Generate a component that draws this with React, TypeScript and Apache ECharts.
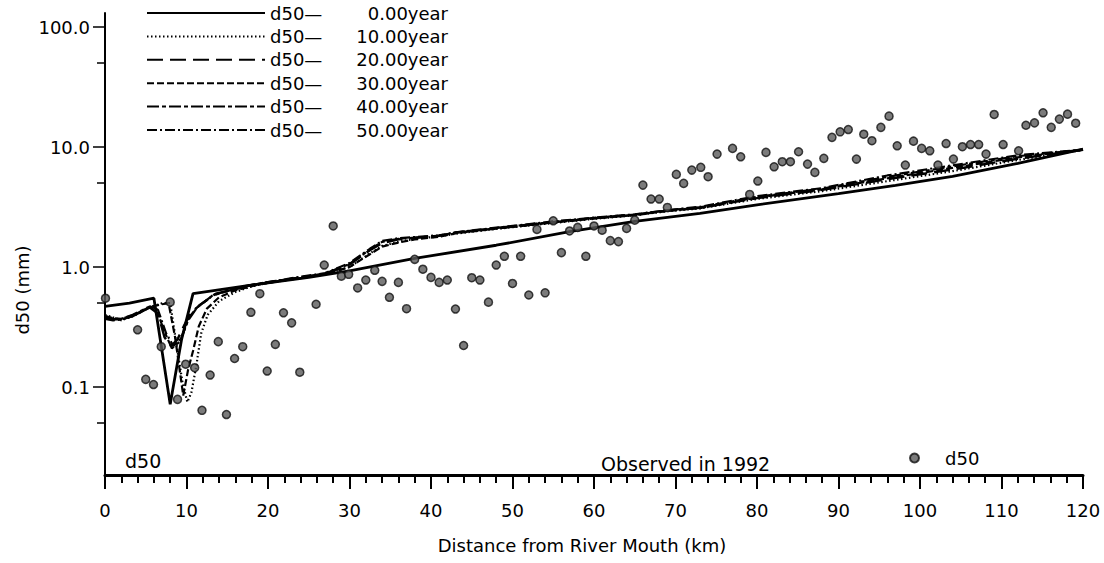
import React, { useEffect, useRef } from "react";
import * as echarts from "echarts";

const FONT = "'DejaVu Sans', sans-serif";

// Axis settings (values)
const xMin = 0;
const xMax = 120;
const xStep = 10;
const yMin = 0.0185;
const yMax = 131;
const yLabelValues = [0.1, 1, 10, 100];
const yMinorTickValues = [0.05, 0.5, 5, 50];

// Observed d50 in 1992
const obsKm = [
  0.06, 4.0, 5.0, 5.95, 6.9, 8.0, 8.9, 9.9, 11.0, 11.9, 12.9, 13.9, 14.9, 15.9, 16.9, 17.9, 19.0, 19.9,
  20.9, 21.9, 22.9, 23.9, 25.9, 26.9, 28.0, 29.0, 29.9, 31.0, 32.0, 33.1, 34.0, 34.9, 36.0, 37.0, 38.0,
  39.0, 40.0, 41.0, 42.0, 43.0, 44.0, 45.0, 46.0, 47.05, 48.0, 49.0, 50.0, 51.0, 52.0, 53.0, 54.0, 55.0,
  56.0, 57.0, 58.0, 59.0, 60.0, 61.0, 62.0, 63.0, 64.0, 65.0, 66.0, 67.0, 68.0, 69.0, 70.1, 71.0, 72.0,
  73.1, 74.0, 75.1, 77.0, 78.0, 79.1, 80.1, 81.1, 82.1, 83.1, 84.1, 85.1, 86.2, 87.1, 88.2, 89.2, 90.2,
  91.2, 92.2, 93.1, 94.1, 95.2, 96.2, 97.2, 98.2, 99.2, 100.2, 101.2, 102.2, 103.2, 104.1, 105.2, 106.2,
  107.2, 108.1, 109.1, 110.2, 112.1, 113.0, 114.05, 115.1, 116.1, 117.1, 118.1, 119.1,
];
const obsD50 = [
  0.55, 0.3, 0.116, 0.105, 0.217, 0.51, 0.079, 0.155, 0.145, 0.064, 0.126, 0.239, 0.059, 0.173, 0.217, 0.42, 0.6, 0.136,
  0.227, 0.416, 0.343, 0.133, 0.49, 1.04, 2.2, 0.84, 0.87, 0.67, 0.78, 0.94, 0.76, 0.56, 0.745, 0.45, 1.16,
  0.96, 0.82, 0.745, 0.78, 0.447, 0.222, 0.815, 0.78, 0.51, 1.04, 1.23, 0.73, 1.23, 0.585, 2.06, 0.61, 2.43,
  1.32, 2.0, 2.14, 1.23, 2.2, 2.03, 1.66, 1.63, 2.1, 2.46, 4.82, 3.69, 3.69, 3.14, 5.92, 4.98, 6.43,
  6.78, 5.66, 8.74, 9.75, 8.3, 4.03, 5.21, 9.03, 6.85, 7.55, 7.55, 9.14, 7.21, 6.15, 8.05, 12.05, 13.4,
  14.0, 7.94, 12.8, 11.3, 14.6, 18.1, 10.25, 7.08, 11.2, 9.75, 9.31, 7.08, 10.7, 7.94, 10.07, 10.5,
  10.5, 8.74, 18.7, 10.5, 9.31, 15.2, 15.9, 19.3, 14.6, 17.1, 18.8, 15.8,
];

// Computed d50 profiles [km, mm]
const year0 = [
  [0, 0.47], [3, 0.5], [6, 0.55], [8, 0.072], [9.4, 0.25], [10.8, 0.6], [15, 0.66], [20, 0.74], [25, 0.82], [30, 0.93],
  [38, 1.18], [48, 1.52], [57, 1.97], [65, 2.4], [73, 2.8], [80, 3.3], [90, 4.1], [97, 4.8], [104, 5.7],
  [112, 7.3], [120, 9.6],
];
const year10 = [
  [0, 0.4], [1, 0.38], [2, 0.36], [3.4, 0.39], [5.5, 0.46], [7, 0.5], [8, 0.5], [8.8, 0.22], [9.5, 0.11],
  [10.1, 0.075], [10.6, 0.09], [11.2, 0.15], [11.8, 0.28], [12.6, 0.4], [14, 0.52], [16, 0.62], [18, 0.69],
  [20, 0.74], [24, 0.81], [27, 0.87], [30, 1.0], [32.5, 1.3], [34, 1.5], [36, 1.62], [38, 1.72], [41, 1.8],
  [43, 1.9], [48, 2.08], [55, 2.33], [60, 2.52], [65, 2.7], [69, 2.92], [73, 3.08], [80, 3.7], [88, 4.3],
  [96, 5.2], [104, 6.3], [112, 7.8], [120, 9.5],
];
const year20 = [
  [0, 0.39], [1, 0.37], [2, 0.365], [3.4, 0.39], [5.5, 0.46], [6.5, 0.41], [7.3, 0.26], [8.1, 0.22],
  [8.9, 0.25], [9.75, 0.33], [10.6, 0.42], [11.6, 0.48], [13.6, 0.6], [17.7, 0.7], [20, 0.74], [24, 0.82],
  [27, 0.88], [30, 1.05], [32.5, 1.38], [34, 1.58], [36, 1.7], [38, 1.75], [41, 1.82], [43, 1.93], [48, 2.1],
  [55, 2.36], [60, 2.55], [65, 2.72], [69, 2.95], [73, 3.12], [80, 3.75], [88, 4.4], [96, 5.4], [104, 6.5],
  [112, 8.0], [120, 9.5],
];
const year30 = [
  [0, 0.39], [1, 0.375], [2, 0.37], [3.4, 0.395], [5.5, 0.465], [7, 0.49], [7.8, 0.5], [8.6, 0.26],
  [9.6, 0.085], [10.2, 0.14], [10.8, 0.2], [11.5, 0.32], [12.5, 0.45], [14, 0.56], [16, 0.64], [19, 0.72],
  [24, 0.81], [27, 0.87], [30, 1.0], [32.5, 1.28], [34, 1.48], [36, 1.6], [38, 1.7], [41, 1.79], [43, 1.91],
  [48, 2.09], [55, 2.35], [60, 2.54], [65, 2.71], [69, 2.94], [73, 3.1], [80, 3.8], [88, 4.45], [96, 5.5],
  [104, 6.7], [112, 8.2], [120, 9.5],
];
const year40 = [
  [0, 0.38], [1, 0.365], [2, 0.37], [3.4, 0.4], [5.5, 0.47], [6.3, 0.45], [7.2, 0.3], [8.2, 0.21],
  [9.2, 0.24], [10.2, 0.36], [11.3, 0.46], [13.2, 0.58], [17, 0.69], [20, 0.75], [24, 0.82], [27, 0.88],
  [30, 1.06], [32.5, 1.4], [34, 1.62], [36, 1.72], [38, 1.76], [41, 1.83], [43, 1.94], [48, 2.12], [55, 2.38],
  [60, 2.57], [65, 2.74], [69, 2.97], [73, 3.15], [80, 3.85], [88, 4.5], [96, 5.65], [104, 6.9], [112, 8.4],
  [120, 9.5],
];
const year50 = [
  [0, 0.37], [1, 0.36], [2, 0.365], [3.4, 0.39], [5.5, 0.46], [6.5, 0.44], [7.5, 0.28], [8.4, 0.22],
  [9.4, 0.26], [10.3, 0.38], [11.4, 0.47], [13.4, 0.59], [17.5, 0.7], [20, 0.75], [24, 0.83], [27, 0.89],
  [30, 1.08], [32.5, 1.42], [34, 1.65], [36, 1.74], [38, 1.78], [41, 1.84], [43, 1.95], [48, 2.13], [55, 2.4],
  [60, 2.58], [65, 2.75], [69, 2.98], [73, 3.18], [80, 3.9], [88, 4.55], [96, 5.8], [104, 7.05], [112, 8.55],
  [120, 9.5],
];

const yearLabels = ["0.00year", "10.00year", "20.00year", "30.00year", "40.00year", "50.00year"];
const profiles = [year0, year10, year20, year30, year40, year50];
const dashTypes: any[] = ["solid", [1.5, 2.5], [16, 7], [7, 3], [12, 3, 4, 3], [10, 3, 2, 3]];
const lineWidths = [2.8, 2.2, 2.4, 2.2, 2.2, 2.2];

export default function App() {
  const ref = useRef<HTMLDivElement>(null);
  useEffect(() => {
    if (!ref.current) return;
    const chart = echarts.init(ref.current, null, { renderer: "svg" });
    const lineNames = yearLabels.map((y) => "d50— " + y);
    const lineSeries = profiles.map((p, i) => ({
      type: "line",
      name: lineNames[i],
      data: p,
      symbol: "none",
      showSymbol: false,
      lineStyle: { color: "#000", width: lineWidths[i], type: dashTypes[i] },
      itemStyle: { color: "#000" },
      z: 2,
    }));
    const option: any = {
      animation: false,
      backgroundColor: "#fff",
      textStyle: { fontFamily: FONT },
      grid: { left: 105, right: 21, top: 13, bottom: 88, containLabel: false },
      legend: [
        {
          data: lineNames,
          orient: "vertical",
          left: 146,
          top: 3,
          padding: 0,
          itemWidth: 118,
          itemHeight: 14,
          itemGap: 3.4,
          selectedMode: false,
          itemStyle: { color: "rgba(0,0,0,0)", borderWidth: 0, opacity: 0 },
          formatter: (name: string) => {
            const parts = name.split(" ");
            return "{a|" + parts[0] + "}{b|" + parts[1] + "}";
          },
          textStyle: {
            fontFamily: FONT,
            fontSize: 18,
            color: "#000",
            lineHeight: 20,
            rich: {
              a: { fontFamily: FONT, fontSize: 18, color: "#000", width: 57, lineHeight: 20 },
              b: { fontFamily: FONT, fontSize: 18, color: "#000", width: 121, align: "right", lineHeight: 20 },
            },
          },
        },
        {
          data: ["d50"],
          left: 909,
          top: 448,
          padding: 0,
          itemWidth: 9,
          itemHeight: 9,
          selectedMode: false,
          textStyle: { fontFamily: FONT, fontSize: 18, color: "#000", padding: [0, 0, 0, 21], lineHeight: 20 },
        },
      ],
      xAxis: {
        type: "value",
        min: xMin,
        max: xMax,
        interval: xStep,
        name: "Distance from River Mouth (km)",
        nameLocation: "middle",
        nameGap: 61,
        nameTextStyle: { fontFamily: FONT, fontSize: 18, color: "#000", padding: [0, 24, 0, 0] },
        axisLine: { onZero: false, lineStyle: { color: "#000", width: 3 } },
        axisTick: { show: true, inside: false, length: 14, lineStyle: { color: "#000", width: 2 } },
        minorTick: { show: true, splitNumber: 5, length: 8, lineStyle: { color: "#000", width: 2 } },
        axisLabel: { fontFamily: FONT, fontSize: 18, color: "#000", margin: 26 },
        splitLine: { show: false },
      },
      yAxis: [
        {
          type: "log",
          min: yMin,
          max: yMax,
          position: "left",
          axisLine: { show: true, lineStyle: { color: "#000", width: 2 } },
          axisTick: { show: true, inside: false, length: 12, customValues: yLabelValues, lineStyle: { color: "#000", width: 1.5 } },
          axisLabel: {
            fontFamily: FONT,
            fontSize: 18,
            color: "#000",
            margin: 15,
            customValues: yLabelValues,
            formatter: (v: number) => Number(v).toFixed(1),
          },
          splitLine: { show: false },
          minorTick: { show: false },
        },
        {
          type: "log",
          min: yMin,
          max: yMax,
          position: "left",
          axisLine: { show: false },
          axisTick: { show: true, inside: false, length: 8, customValues: yMinorTickValues, lineStyle: { color: "#000", width: 1.5 } },
          axisLabel: { show: false },
          splitLine: { show: false },
        },
      ],
      graphic: [
        {
          type: "text",
          left: 125,
          top: 451,
          style: { text: "d50", fontFamily: FONT, fontSize: 19, fill: "#000" },
        },
        {
          type: "text",
          left: 601,
          top: 454,
          style: { text: "Observed in 1992", fontFamily: FONT, fontSize: 19, fill: "#000" },
        },
        {
          type: "text",
          x: 22,
          y: 290,
          rotation: Math.PI / 2,
          style: {
            text: "d50 (mm)",
            fontFamily: FONT,
            fontSize: 18,
            fill: "#000",
            align: "center",
            verticalAlign: "middle",
          },
        },
      ],
      series: [
        ...lineSeries,
        {
          type: "scatter",
          name: "d50",
          data: obsKm.map((k, i) => [k, obsD50[i]]),
          symbol: "circle",
          symbolSize: 8,
          itemStyle: { color: "#5a5a5a", borderColor: "#111", borderWidth: 1.5 },
          z: 3,
        },
      ],
    };
    chart.setOption(option);
    return () => chart.dispose();
  }, []);
  return (
    <div
      ref={ref}
      style={{ position: "fixed", left: 0, top: 0, width: 1104, height: 563, background: "#fff" }}
    />
  );
}
